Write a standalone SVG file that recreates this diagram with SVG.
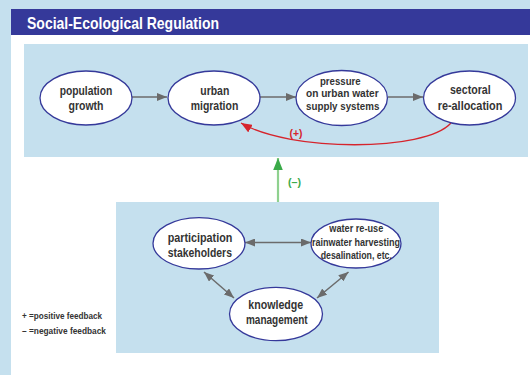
<svg xmlns="http://www.w3.org/2000/svg" width="530" height="375" viewBox="0 0 530 375">
<defs>
<style>
.bg{fill:#c5e0ee}
.node ellipse{fill:#ffffff;stroke:#35399a;stroke-width:1.3}
text{font-family:"Liberation Sans Narrow","Liberation Sans",Arial,sans-serif;font-weight:bold}
.t{fill:#333333;font-size:13px;text-anchor:middle}
.tp{fill:#333333;font-size:10.8px;text-anchor:middle}
.ts{fill:#333333;font-size:11px;text-anchor:middle}
.tb{fill:#333333;font-size:13.5px;text-anchor:middle}
.leg{fill:#333333;font-size:8.5px}
.gray{stroke:#6b6b6b;stroke-width:1.5;fill:none}
</style>
<marker id="ag" viewBox="0 0 10 8" refX="10" refY="4" markerWidth="10" markerHeight="8" markerUnits="userSpaceOnUse" orient="auto-start-reverse">
<path d="M0,0 L10,4 L0,8 z" fill="#6b6b6b"/>
</marker>
<marker id="ar" viewBox="0 0 10 8" refX="10" refY="4" markerWidth="11" markerHeight="9" markerUnits="userSpaceOnUse" orient="auto">
<path d="M0,0 L10,4 L0,8 z" fill="#d6242c"/>
</marker>
<marker id="agr" viewBox="0 0 10 8" refX="10" refY="4" markerWidth="12" markerHeight="10" markerUnits="userSpaceOnUse" orient="auto">
<path d="M0,0 L10,4 L0,8 z" fill="#3aaa49"/>
</marker>
</defs>
<rect x="0" y="0" width="530" height="375" class="bg"/>
<rect x="11" y="9" width="519" height="366" fill="#ffffff"/>
<rect x="11" y="9" width="519" height="26" fill="#35399a"/>
<text x="27" y="29" fill="#ffffff" font-size="17" textLength="192" lengthAdjust="spacingAndGlyphs">Social-Ecological Regulation</text>
<rect x="24" y="44" width="504" height="113" class="bg"/>
<rect x="116" y="202" width="323" height="151" class="bg"/>

<g id="connectors">
<line class="gray" x1="132" y1="97" x2="167" y2="97" marker-end="url(#ag)"/>
<line class="gray" x1="260" y1="97" x2="296" y2="97" marker-end="url(#ag)"/>
<line class="gray" x1="388" y1="97" x2="423" y2="97" marker-end="url(#ag)"/>
<path d="M451,123 C425,152 290,152 241,123" fill="none" stroke="#d6242c" stroke-width="1.3" marker-end="url(#ar)"/>
<text x="296" y="137" fill="#d6242c" font-size="10" text-anchor="middle" textLength="13" lengthAdjust="spacingAndGlyphs">(+)</text>
<line x1="278" y1="202" x2="278" y2="158" stroke="#8fd18f" stroke-width="2.2" marker-end="url(#agr)"/>
<text x="294.5" y="186" fill="#3aaa49" font-size="10" text-anchor="middle" textLength="13" lengthAdjust="spacingAndGlyphs">(–)</text>
<line class="gray" x1="245" y1="242.5" x2="311" y2="242.5" marker-start="url(#ag)" marker-end="url(#ag)"/>
<line class="gray" x1="204" y1="272" x2="234" y2="298" marker-start="url(#ag)" marker-end="url(#ag)"/>
<line class="gray" x1="348.5" y1="272" x2="317" y2="298" marker-start="url(#ag)" marker-end="url(#ag)"/>
</g>

<g id="population-growth" class="node">
<ellipse cx="86" cy="98" rx="46" ry="27"/>
<text class="t" x="86" y="95" textLength="52.7" lengthAdjust="spacingAndGlyphs">population</text>
<text class="t" x="86" y="109.5" textLength="35" lengthAdjust="spacingAndGlyphs">growth</text>
</g>
<g id="urban-migration" class="node">
<ellipse cx="214" cy="98" rx="46" ry="27"/>
<text class="t" x="214.8" y="95" textLength="29" lengthAdjust="spacingAndGlyphs">urban</text>
<text class="t" x="214.5" y="109.5" textLength="47.6" lengthAdjust="spacingAndGlyphs">migration</text>
</g>
<g id="pressure" class="node">
<ellipse cx="341.7" cy="98" rx="45.7" ry="27.5"/>
<text class="tp" x="340.3" y="85" textLength="40.7" lengthAdjust="spacingAndGlyphs">pressure</text>
<text class="tp" x="342.3" y="97.4" textLength="72.7" lengthAdjust="spacingAndGlyphs">on urban water</text>
<text class="tp" x="342.7" y="109.8" textLength="73.3" lengthAdjust="spacingAndGlyphs">supply systems</text>
</g>
<g id="sectoral" class="node">
<ellipse cx="469.5" cy="98" rx="46" ry="27"/>
<text class="t" x="470.3" y="93.5" textLength="40.7" lengthAdjust="spacingAndGlyphs">sectoral</text>
<text class="t" x="470" y="109.5" textLength="64.7" lengthAdjust="spacingAndGlyphs">re-allocation</text>
</g>
<g id="participation" class="node">
<ellipse cx="199" cy="243.3" rx="46" ry="25.7"/>
<text class="tb" x="200" y="242" textLength="64.7" lengthAdjust="spacingAndGlyphs">participation</text>
<text class="tb" x="199.8" y="257" textLength="64.3" lengthAdjust="spacingAndGlyphs">stakeholders</text>
</g>
<g id="water" class="node">
<ellipse cx="356" cy="243.5" rx="45" ry="24.5"/>
<text class="ts" x="356.3" y="232" textLength="54" lengthAdjust="spacingAndGlyphs">water re-use</text>
<text class="ts" x="356" y="245.5" textLength="88" lengthAdjust="spacingAndGlyphs">rainwater harvesting</text>
<text class="ts" x="356.3" y="258.5" textLength="71.3" lengthAdjust="spacingAndGlyphs">desalination, etc.</text>
</g>
<g id="knowledge" class="node">
<ellipse cx="276" cy="314" rx="46.5" ry="26.7"/>
<text class="tb" x="275.8" y="308.5" textLength="55" lengthAdjust="spacingAndGlyphs">knowledge</text>
<text class="tb" x="276.8" y="324" textLength="61.7" lengthAdjust="spacingAndGlyphs">management</text>
</g>
<g id="legend">
<text class="leg" x="22" y="318.5" textLength="80" lengthAdjust="spacingAndGlyphs">+  =positive feedback</text>
<text class="leg" x="22" y="333.5" textLength="84" lengthAdjust="spacingAndGlyphs">–  =negative feedback</text>
</g>
</svg>
